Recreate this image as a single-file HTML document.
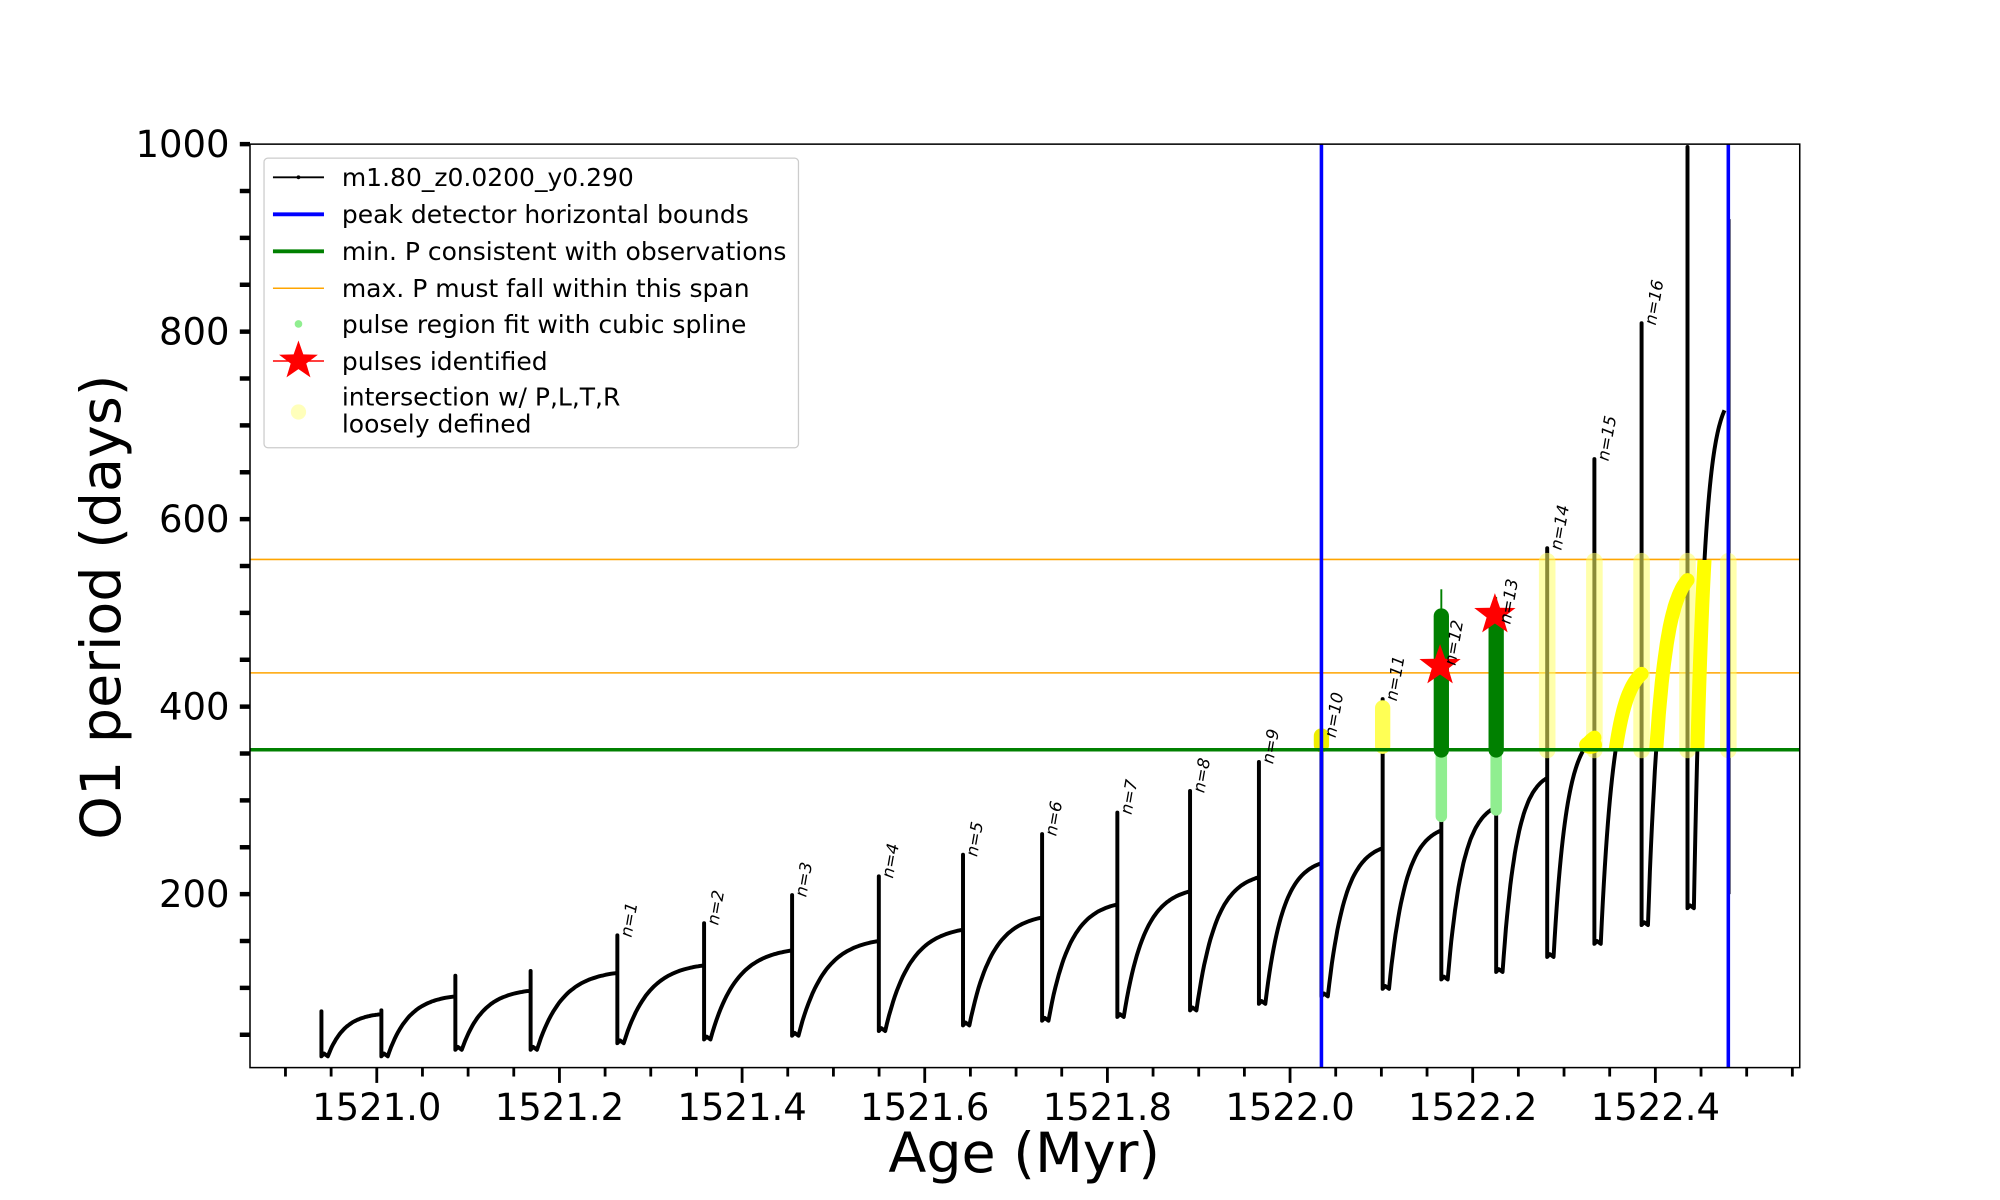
<!DOCTYPE html>
<html><head><meta charset="utf-8"><style>
html,body{margin:0;padding:0;background:#fff;}
svg{display:block;font-family:"DejaVu Sans","Liberation Sans",sans-serif;}
</style></head><body>
<svg id="s" width="2000" height="1200" viewBox="0 0 1568 940.8" xmlns="http://www.w3.org/2000/svg">
<defs>
<clipPath id="pc"><rect x="196" y="113" width="1215" height="724"/></clipPath>
<clipPath id="yc"><rect x="1240" y="439" width="110" height="150"/></clipPath>
</defs>
<rect x="0" y="0" width="1568" height="940.8" fill="#fff"/>
<g id="plot" clip-path="url(#pc)"></g>
<rect x="196" y="113" width="1215" height="724" fill="none" stroke="#000" stroke-width="1.2"/>
<g id="ticks"></g>
<text x="803" y="919" font-size="43.5" text-anchor="middle">Age (Myr)</text>
<text transform="translate(94,476) rotate(-90)" font-size="43.5" text-anchor="middle">O1 period (days)</text>
<g id="legend">
<rect x="207" y="124" width="419" height="227" rx="3" fill="#fff" fill-opacity="0.8" stroke="#ccc" stroke-width="1"/>
<line x1="214" y1="139" x2="254" y2="139" stroke="#000" stroke-width="1.5"/><circle cx="234" cy="139" r="1.5"/>
<text x="268" y="146" font-size="19.6">m1.80_z0.0200_y0.290</text>
<line x1="214" y1="168" x2="254" y2="168" stroke="#00f" stroke-width="3"/>
<text x="268" y="175" font-size="19.6">peak detector horizontal bounds</text>
<line x1="214" y1="197" x2="254" y2="197" stroke="#008000" stroke-width="3"/>
<text x="268" y="204" font-size="19.6">min. P consistent with observations</text>
<line x1="214" y1="226" x2="254" y2="226" stroke="orange" stroke-width="1.2"/>
<text x="268" y="233" font-size="19.6">max. P must fall within this span</text>
<circle cx="234" cy="254" r="3" fill="#90ee90"/>
<text x="268" y="261" font-size="19.6">pulse region fit with cubic spline</text>
<line x1="214" y1="283" x2="254" y2="283" stroke="red" stroke-width="1.2"/>
<polygon id="lstar" fill="red"/>
<text x="268" y="290" font-size="19.6">pulses identified</text>
<circle cx="234" cy="323" r="6" fill="#ffffaa" fill-opacity="0.8"/>
<text x="268" y="318" font-size="19.6">intersection w/ P,L,T,R</text>
<text x="268" y="339" font-size="19.6">loosely defined</text>
</g>
</svg>
<script>
var NS="http://www.w3.org/2000/svg";
function el(p,t,a,txt){var e=document.createElementNS(NS,t);for(var k in a)e.setAttribute(k,a[k]);if(txt!=null)e.textContent=txt;p.appendChild(e);return e;}
function Y(v){return 848-0.735*v;}
function star(cx,cy,R){var r=R*0.4,pts=[];for(var i=0;i<10;i++){var a=-Math.PI/2+i*Math.PI/5,rr=i%2?r:R;pts.push((cx+rr*Math.cos(a)).toFixed(1)+","+(cy+rr*Math.sin(a)).toFixed(1));}return pts.join(" ");}
document.getElementById("lstar").setAttribute("points",star(234,283,16));
var plot=document.getElementById("plot"),ticks=document.getElementById("ticks");
var P=[[252,62,75,27],[299,72,76,27],[357,91,113,34],[416,97,118,34],[484,116,156,41],[552,124,169,45],[621,140,199,49],[689,150,219,54],[755,162,242,60],[817,175,264,65],[876,189,287,69],[933,203,310,76],[987,218,341,83],[1036,233,369,91],[1084,249,408,99],[1130,268,446,109],[1173,293,490,117],[1213,324,569,133],[1250,367,664,147],[1287,435,809,167],[1323,535,997,185]];
var ends=P.map(function(p,i){return i<P.length-1?[P[i+1][0],P[i+1][1]]:[1352,716];});
el(plot,"line",{x1:196,x2:1411,y1:Y(557),y2:Y(557),stroke:"orange","stroke-width":1.2});
el(plot,"line",{x1:196,x2:1411,y1:Y(436),y2:Y(436),stroke:"orange","stroke-width":1.2});
var d="",yellow="";
for(var i=0;i<P.length;i++){
 var p=P[i],x0=p[0],e=ends[i];
 var seg="M"+x0+","+Y(p[1])+" L"+x0+","+Y(p[2])+" L"+x0+","+Y(p[3]);
 var xm=x0+5,x1=e[0],v1=e[1],m=p[3];
 seg+=" L"+(x0+2)+","+Y(m+3)+" L"+xm+","+Y(m);
 var k=3.2,n=40;
 for(var j=1;j<=n;j++){var t=j/n;var v=m+(v1-m)*(1-Math.exp(-k*t))/(1-Math.exp(-k));seg+=" L"+(xm+(x1-xm)*t).toFixed(1)+","+Y(v).toFixed(1);}
 d+=seg+" ";
 if(i>=17)yellow+=seg.replace(/^M[^L]*L[^L]*L/,"M")+" ";
}
el(plot,"path",{d:d,fill:"none",stroke:"#000","stroke-width":3.1,"stroke-linejoin":"round"});
el(plot,"line",{x1:1356,x2:1356,y1:Y(920),y2:Y(200),stroke:"#000","stroke-width":1.5});
[[1213,440,588],[1250,440,588],[1287,440,588],[1323,440,588],[1355,440,588]].forEach(function(b){el(plot,"line",{x1:b[0],x2:b[0],y1:b[1],y2:b[2],stroke:"#ffff66","stroke-opacity":0.55,"stroke-width":13,"stroke-linecap":"round"});});
el(plot,"path",{d:yellow,fill:"none",stroke:"#ffff00","stroke-width":11,"stroke-linecap":"round","clip-path":"url(#yc)"});
el(plot,"ellipse",{cx:1247,cy:584,rx:9,ry:7,fill:"#ffff00"});
el(plot,"line",{x1:1036,x2:1036,y1:577,y2:584,stroke:"#eeee00","stroke-width":12,"stroke-linecap":"round"});
el(plot,"line",{x1:1084,x2:1084,y1:555,y2:585,stroke:"#ffff55","stroke-width":12,"stroke-linecap":"round"});
[[1130,483,640],[1173,483,635]].forEach(function(g){
 el(plot,"line",{x1:g[0],x2:g[0],y1:588,y2:g[2],stroke:"#90ee90","stroke-width":9,"stroke-linecap":"round"});
 el(plot,"line",{x1:g[0],x2:g[0],y1:g[1],y2:588,stroke:"#008000","stroke-width":12,"stroke-linecap":"round"});
});
el(plot,"line",{x1:1130,x2:1130,y1:462,y2:485,stroke:"#008000","stroke-width":1.5});
el(plot,"line",{x1:1173,x2:1173,y1:468,y2:485,stroke:"#008000","stroke-width":1.5});
el(plot,"line",{x1:196,x2:1411,y1:Y(354),y2:Y(354),stroke:"#008000","stroke-width":2.8});
el(plot,"polygon",{points:star(1129,522,17),fill:"red"});
el(plot,"polygon",{points:star(1172,482,17),fill:"red"});
el(plot,"line",{x1:1036,x2:1036,y1:113,y2:837,stroke:"#00f","stroke-width":2.8});
el(plot,"line",{x1:1355,x2:1355,y1:113,y2:837,stroke:"#00f","stroke-width":2.8});
for(var i=4;i<P.length-1;i++){var p=P[i];el(ticks,"text",{transform:"translate("+(p[0]+11)+","+(Y(p[2])+2)+") rotate(-80)","font-size":13,"font-style":"italic"},"n="+(i-3));}
for(var q=-22;q<=11;q++){var a=1522+q*0.05;var x=1011.4+q*35.8;if(x<197||x>1410)continue;var maj=(q%4===0);el(ticks,"line",{x1:x,x2:x,y1:837,y2:837+(maj?12:7),stroke:"#000","stroke-width":2.2});if(maj)el(ticks,"text",{x:x,y:878,"font-size":29,"text-anchor":"middle"},a.toFixed(1));}
for(var v=50;v<=1000;v+=50){var y=Y(v);var maj=v%200==0;el(ticks,"line",{x1:188,x2:196,y1:y,y2:y,stroke:"#000","stroke-width":3.5});if(maj)el(ticks,"text",{x:180,y:y+10,"font-size":29,"text-anchor":"end"},String(v));}
</script>
</body></html>
